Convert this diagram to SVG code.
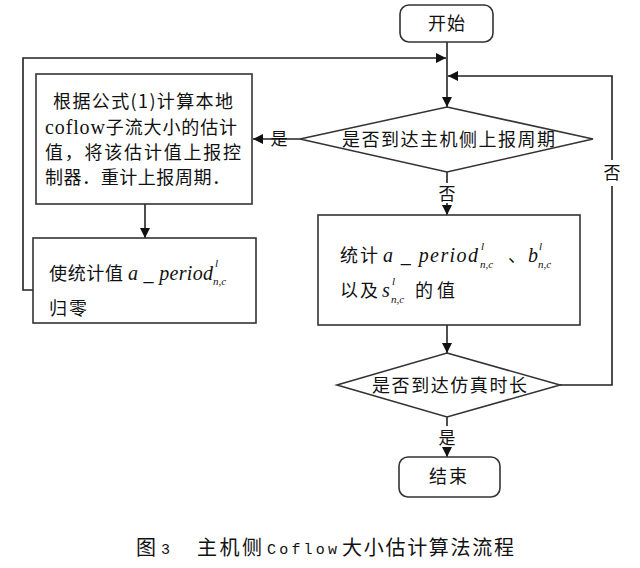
<svg xmlns="http://www.w3.org/2000/svg" width="640" height="568" viewBox="0 0 640 568">
<style>
.box{fill:#fff;stroke:#333;stroke-width:1.6}
.ln{fill:none;stroke:#222;stroke-width:1.6}
.cn{font-family:"Noto Sans CJK SC","Liberation Sans",sans-serif;font-size:18px;fill:#111}
.cap{font-family:"Noto Sans CJK SC","Liberation Sans",sans-serif;font-size:20px;fill:#111}
.mi{font-family:"Liberation Serif",serif;font-style:italic;font-size:20px;fill:#111}
.sb{font-family:"Liberation Serif",serif;font-style:italic;font-size:11px;fill:#111}
.lb{font-family:"Noto Sans CJK SC",sans-serif;font-size:17px;fill:#111;text-anchor:middle}
</style>
<defs>
<marker id="ah" viewBox="0 0 10 10" refX="10" refY="5" markerWidth="10" markerHeight="10" markerUnits="userSpaceOnUse" orient="auto">
<path d="M0,0 L10,5 L0,10 z" fill="#111"/>
</marker>
</defs>
<rect width="640" height="568" fill="#fff"/>
<g id="connectors">
<path class="ln" d="M447,42 V107" marker-end="url(#ah)"/>
<path class="ln" d="M33,290 H23 V58 H446" marker-end="url(#ah)"/>
<path class="ln" d="M560,385 H612 V76 H448" marker-end="url(#ah)"/>
<path class="ln" d="M300,139 H253" marker-end="url(#ah)"/>
<path class="ln" d="M447,172 V183"/>
<path class="ln" d="M447,203 V215" marker-end="url(#ah)"/>
<path class="ln" d="M145,204 V238" marker-end="url(#ah)"/>
<path class="ln" d="M447,325 V353" marker-end="url(#ah)"/>
<path class="ln" d="M447,417 V426"/>
<path class="ln" d="M447,448 V457" marker-end="url(#ah)"/>
<rect x="600" y="160" width="24" height="26" fill="#fff"/>
<text class="lb" x="612" y="179">否</text>
<text class="lb" x="447" y="200">否</text>
<text class="lb" x="447" y="444">是</text>
<text class="lb" x="279" y="145">是</text>
</g>
<g id="start">
<rect class="box" x="400" y="5" width="93" height="37" rx="9"/>
<text class="cn" x="447" y="30" text-anchor="middle" letter-spacing="1">开始</text>
</g>
<g id="decision1">
<polygon class="box" points="447,107 593,139 447,172 300,139"/>
<text class="cn" x="342" y="146" textLength="213">是否到达主机侧上报周期</text>
</g>
<g id="compute">
<rect class="box" x="36" y="74" width="216" height="130"/>
<text class="cn" x="53" y="108" textLength="180">根据公式(1)计算本地</text>
<text x="45" y="134" textLength="192"><tspan font-family="Liberation Serif,serif" font-size="20px" fill="#111">coflow</tspan><tspan class="cn">子流大小的估计</tspan></text>
<text class="cn" x="45" y="159" textLength="196">值，将该估计值上报控</text>
<text class="cn" x="45" y="184" textLength="185">制器．重计上报周期．</text>
</g>
<g id="reset">
<rect class="box" x="33" y="238" width="223" height="85"/>
<text class="cn" x="49" y="280" textLength="74">使统计值</text>
<text class="mi" x="128" y="280" textLength="85">a _ period</text>
<text class="sb" x="215" y="267">l</text>
<text class="sb" x="213" y="285">n,c</text>
<text class="cn" x="49" y="315" textLength="38">归零</text>
</g>
<g id="stats">
<rect class="box" x="318" y="215" width="262" height="110"/>
<text class="cn" x="340" y="262" textLength="38">统计</text>
<text class="mi" x="383" y="262" textLength="95">a _ period</text>
<text class="sb" x="481" y="250">l</text>
<text class="sb" x="480" y="268">n,c</text>
<text class="cn" x="508" y="262">、</text>
<text class="mi" x="528" y="262">b</text>
<text class="sb" x="539" y="250">l</text>
<text class="sb" x="538" y="268">n,c</text>
<text class="cn" x="340" y="297" textLength="38">以及</text>
<text class="mi" x="382" y="297">s</text>
<text class="sb" x="392" y="285">l</text>
<text class="sb" x="391" y="303">n,c</text>
<text class="cn" x="415" y="297" textLength="40">的值</text>
</g>
<g id="decision2">
<polygon class="box" points="447,353 560,385 447,417 337,385"/>
<text class="cn" x="372" y="392" textLength="155">是否到达仿真时长</text>
</g>
<g id="end">
<rect class="box" x="399" y="457" width="101" height="40" rx="9"/>
<text class="cn" x="449" y="483" text-anchor="middle" letter-spacing="2">结束</text>
</g>
<g id="caption">
<text class="cap" x="136" y="555">图</text>
<text x="161" y="554" font-family="Liberation Mono,monospace" font-size="15px" fill="#111">3</text>
<text class="cap" x="197" y="555" textLength="65">主机侧</text>
<text x="267" y="554" font-family="Liberation Mono,monospace" font-size="15px" fill="#111" textLength="70">Coflow</text>
<text class="cap" x="342" y="555" textLength="172">大小估计算法流程</text>
</g>
</svg>
